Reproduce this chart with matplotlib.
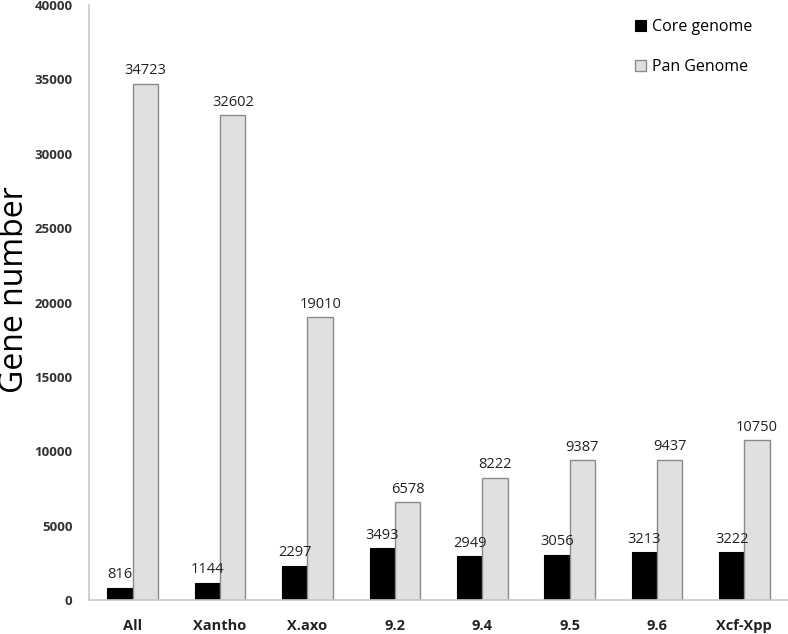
import matplotlib
matplotlib.use("Agg")
import matplotlib.pyplot as plt
import numpy as np

categories = ["All", "Xantho", "X.axo", "9.2", "9.4", "9.5", "9.6", "Xcf-Xpp"]
core = [816, 1144, 2297, 3493, 2949, 3056, 3213, 3222]
pan = [34723, 32602, 19010, 6578, 8222, 9387, 9437, 10750]
yticks = list(range(0, 40001, 5000))

plt.rcParams['font.family'] = ['Open Sans', 'DejaVu Sans']

fig = plt.figure(figsize=(7.88, 6.34), dpi=100)
ax = fig.add_axes([0.113, 0.0536, 0.887, 0.9384])

x = np.arange(len(categories))
w = 0.29
b1 = ax.bar(x - w/2, core, w, color="black", edgecolor="black", linewidth=0.8, label="Core genome")
b2 = ax.bar(x + w/2, pan, w, color="#e0e0e0", edgecolor="#8a8a8a", linewidth=1.0, label="Pan Genome")

for rect, v in zip(b1, core):
    ax.annotate(str(v), (rect.get_x() + rect.get_width()/2, v), xytext=(0, 4),
                textcoords="offset points", ha="center", va="bottom", fontsize=10.5, color="#222222")
for rect, v in zip(b2, pan):
    ax.annotate(str(v), (rect.get_x() + rect.get_width()/2, v), xytext=(0, 4),
                textcoords="offset points", ha="center", va="bottom", fontsize=10.5, color="#222222")

ax.set_xlim(-0.5, len(categories) - 0.5)
ax.set_ylim(0, 40000)
ax.set_yticks(yticks)
ax.set_yticklabels([str(t) for t in yticks], fontweight="bold", fontsize=9.5, color="#333333")
ax.set_xticks(x)
ax.set_xticklabels(categories, fontweight="bold", fontsize=10.5, color="#222222")
ax.tick_params(axis="both", length=0)
ax.tick_params(axis="x", pad=14)
ax.tick_params(axis="y", pad=12)

for s in ["top", "right"]:
    ax.spines[s].set_visible(False)
ax.spines["left"].set_color("#c8c8c8")
ax.spines["bottom"].set_color("#c8c8c8")
ax.spines["left"].set_linewidth(1.2)
ax.spines["bottom"].set_linewidth(1.2)

fig.text(0.019, 0.543, "Gene number", rotation=90, fontsize=23, ha="center", va="center", color="black")

leg = ax.legend(loc="upper left", bbox_to_anchor=(0.76, 1.0), frameon=False, fontsize=11.5,
                handlelength=0.7, handleheight=0.7, labelspacing=1.5, handletextpad=0.4)

fig.savefig("out.png", dpi=100)
